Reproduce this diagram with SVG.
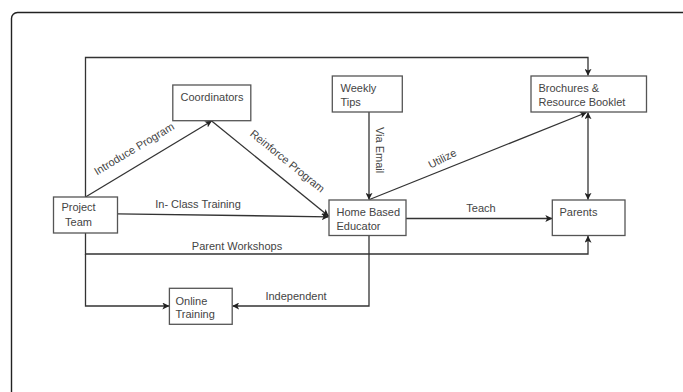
<svg xmlns="http://www.w3.org/2000/svg" width="683" height="392" viewBox="0 0 683 392">
<style>
.frame{fill:#fff;stroke:#222;stroke-width:1.4}
.box rect{fill:#fff;stroke:#555;stroke-width:1.3}
text{font-family:"Liberation Sans",Arial,sans-serif;font-size:11px;fill:#444}
.conn path{fill:none;stroke:#333;stroke-width:1.3}
.arr{marker-end:url(#ah)}
.both{marker-start:url(#ahs);marker-end:url(#ah)}
</style>
<defs>
<marker id="ah" viewBox="0 0 10 10" refX="9.5" refY="5" markerWidth="7" markerHeight="7" markerUnits="userSpaceOnUse" orient="auto">
<path d="M0,0 L10,5 L0,10 L2.5,5 Z" fill="#222"/>
</marker>
<marker id="ahs" viewBox="0 0 10 10" refX="0.5" refY="5" markerWidth="7" markerHeight="7" markerUnits="userSpaceOnUse" orient="auto">
<path d="M10,0 L0,5 L10,10 L7.5,5 Z" fill="#222"/>
</marker>
</defs>
<rect width="683" height="392" fill="#fff"/>
<rect class="frame" x="11.5" y="12.5" width="720" height="420" rx="6"/>

<g id="connectors" class="conn">
<path class="arr" d="M85.5,197 V57.5 H588 V75.5"/>
<path class="arr" d="M85.5,233 V254 H588 V236"/>
<path class="arr" d="M85.5,254 V306 H169"/>
<path class="arr" d="M85.5,197 L211.7,121"/>
<path class="arr" d="M211.7,121 L328.5,216"/>
<path class="arr" d="M117.5,213.8 L328.5,216.8"/>
<path class="arr" d="M369,112 V199.5"/>
<path class="arr" d="M369.5,199.5 L586.5,112.5"/>
<path class="both" d="M588,112.5 V199.5"/>
<path class="arr" d="M406,218.5 H552"/>
<path class="arr" d="M369,236 V306 H232.5"/>
</g>

<g id="labels">
<text transform="translate(136,152) rotate(-31)" text-anchor="middle">Introduce Program</text>
<text transform="translate(285,164) rotate(39)" text-anchor="middle">Reinforce Program</text>
<text x="198" y="208" text-anchor="middle">In- Class Training</text>
<text transform="translate(376,150) rotate(90)" text-anchor="middle">Via Email</text>
<text transform="translate(444,162) rotate(-27)" text-anchor="middle">Utilize</text>
<text x="481" y="212" text-anchor="middle">Teach</text>
<text x="237" y="250" text-anchor="middle">Parent Workshops</text>
<text x="296" y="300" text-anchor="middle">Independent</text>
</g>

<g id="project-team" class="box">
<rect x="53.5" y="197" width="64" height="36"/>
<text x="78.5" y="211" text-anchor="middle">Project</text>
<text x="78.5" y="226" text-anchor="middle">Team</text>
</g>
<g id="coordinators" class="box">
<rect x="172.8" y="85" width="78" height="35.7"/>
<text x="212" y="100.5" text-anchor="middle">Coordinators</text>
</g>
<g id="weekly-tips" class="box">
<rect x="332.3" y="76" width="70" height="36"/>
<text x="340.5" y="92">Weekly</text>
<text x="340.5" y="105.5">Tips</text>
</g>
<g id="brochures" class="box">
<rect x="531" y="76" width="115.5" height="36"/>
<text x="538.5" y="92">Brochures &amp;</text>
<text x="538.5" y="105.5">Resource Booklet</text>
</g>
<g id="home-based-educator" class="box">
<rect x="329" y="200" width="77" height="35.5"/>
<text x="336.5" y="215.5">Home Based</text>
<text x="336.5" y="229.5">Educator</text>
</g>
<g id="parents" class="box">
<rect x="552.3" y="200" width="72.7" height="35.5"/>
<text x="559.5" y="215.5">Parents</text>
</g>
<g id="online-training" class="box">
<rect x="169.4" y="288.3" width="62.8" height="36"/>
<text x="175.5" y="304.5">Online</text>
<text x="175.5" y="318">Training</text>
</g>
</svg>
